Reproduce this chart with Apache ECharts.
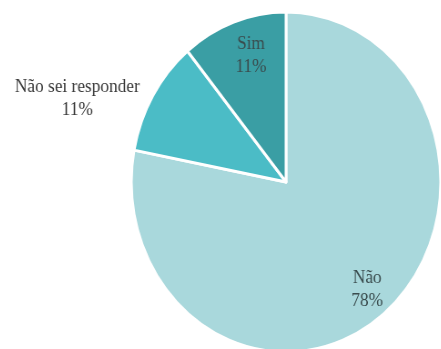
<!DOCTYPE html>
<html>
<head>
<meta charset="utf-8">
<script src="https://cdn.jsdelivr.net/npm/echarts@6/dist/echarts.min.js"></script>
<style>
  html, body { margin: 0; padding: 0; background: #ffffff; overflow: hidden; }
  #wrap { position: relative; width: 441px; height: 349px; overflow: hidden; }
  /* the pie is drawn slightly narrower than tall */
  #chart { position: absolute; left: -40px; top: 0; width: 520px; height: 349px;
           transform: scaleX(0.91); transform-origin: 326px 50%; }
</style>
</head>
<body>
<div id="wrap"><div id="chart"></div></div>
<script>
// answers, clockwise from 12 o'clock
const categories = ['Não', 'Não sei responder', 'Sim'];
const shares = [78, 11, 11];
const colors = ['#a9d8dc', '#4bbcc6', '#3a9ea4'];

const chart = echarts.init(document.getElementById('chart'), null, { renderer: 'canvas' });

const center = [326, 182];
const labelFont = { fontFamily: 'Liberation Serif', fontSize: 19, lineHeight: 23 };

const slices = categories.map((name, i) => ({
  name, value: shares[i], itemStyle: { color: colors[i] }
}));

// inside labels sit on a ring at 0.8 of the pie radius: a transparent
// pie twice that radius puts its 'inside' labels there
const labelRing = categories.map((name, i) => ({
  name, value: shares[i],
  label: { show: name !== 'Não sei responder' }
}));

chart.setOption({
  animation: false,
  series: [
    {
      type: 'pie',
      center, radius: 170, startAngle: 90, clockwise: true,
      data: slices,
      itemStyle: { borderColor: '#ffffff', borderWidth: 3 },
      label: { show: false },
      labelLine: { show: false },
      silent: true
    },
    {
      type: 'pie',
      center, radius: 274, startAngle: 90, clockwise: true,
      data: labelRing,
      itemStyle: { color: 'rgba(0,0,0,0)', borderWidth: 0 },
      label: Object.assign({
        position: 'inside', color: '#3a4c4e',
        formatter: p => p.name + '\n' + p.value + '%'
      }, labelFont),
      labelLine: { show: false },
      // the narrow top slice keeps its label a little nearer the divider
      labelLayout: p => (p.dataIndex === 2 ? { dx: 9, dy: 5 } : {}),
      silent: true
    },
    {
      // the small grey-blue slice is named outside, to its left
      type: 'pie',
      center, radius: 170, startAngle: 90, clockwise: true,
      data: categories.map((name, i) => ({
        name, value: shares[i],
        label: { show: name === 'Não sei responder' }
      })),
      itemStyle: { color: 'rgba(0,0,0,0)', borderWidth: 0 },
      label: Object.assign({
        position: 'outside', color: '#383838', align: 'center',
        formatter: p => p.name + '\n' + p.value + '%'
      }, labelFont),
      labelLine: { show: false, length: 0, length2: 0 },
      labelLayout: p => ({ dx: -78, dy: 3, align: 'center' }),
      silent: true
    }
  ]
});
</script>
</body>
</html>
